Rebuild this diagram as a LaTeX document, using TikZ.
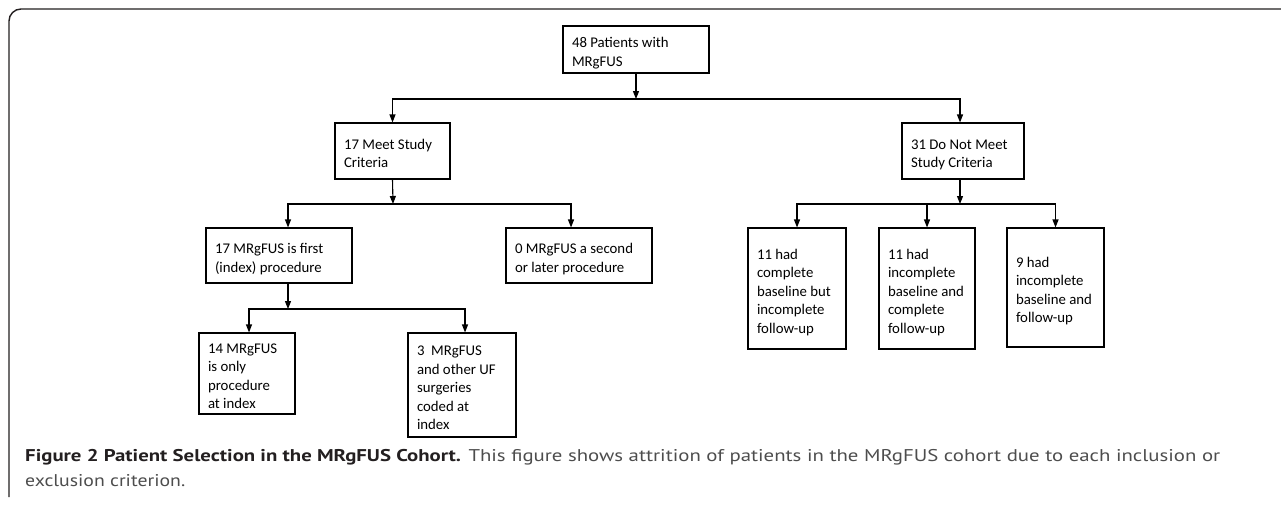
\documentclass[tikz,border=0pt]{standalone}
\usepackage{fontspec}
\usepackage{graphicx}
\setmainfont{Carlito}
\newfontfamily\capfont{PT Sans}
\usetikzlibrary{arrows.meta}
\definecolor{capdark}{HTML}{231F20}
\definecolor{capgray}{HTML}{4D4D4D}
\newcommand{\bt}[1]{\raisebox{-4pt}[\height][\depth]{\begin{tabular}{@{}l@{}}#1\end{tabular}}}
\begin{document}
\begin{tikzpicture}[x=1pt,y=-1pt,
  box/.style={draw=black, line width=1.1pt, fill=white, inner sep=0pt,
    anchor=center, font=\fontsize{14.8}{18.5}\selectfont},
  arr/.style={-{Triangle[length=8pt,width=6pt]}, line width=1.1pt},
  frame/.style={line width=1.4pt, draw=capdark, rounded corners=12pt}
  ]
\useasboundingbox (0,0) rectangle (1281,506);
\fill[white] (0,0) rectangle (1281,506);
\draw[frame] (9,497) -- (9,9) -- (1281,9);

% level 0
\node[box, minimum width=146pt, minimum height=47pt] (top) at (636,49.5) {\makebox[128pt][l]{\bt{48~Patients~with\\MRgFUS}}};
% level 1
\node[box, minimum width=115pt, minimum height=56pt] (meet) at (392.5,151) {\makebox[97pt][l]{\bt{17~Meet~Study\\Criteria}}};
\node[box, minimum width=122pt, minimum height=56pt] (notmeet) at (963,151) {\makebox[104pt][l]{\bt{31~Do~Not~Meet\\Study~Criteria}}};
% level 2 left
\node[box, minimum width=146pt, minimum height=55pt] (first) at (279,255.5) {\makebox[128pt][l]{\bt{17~MRgFUS~is~first\\(index)~procedure}}};
\node[box, minimum width=146pt, minimum height=55pt] (second) at (579,255.5) {\makebox[128pt][l]{\bt{0~MRgFUS~a~second\\or~later~procedure}}};
% level 2 right
\node[box, minimum width=98pt, minimum height=121pt] (b1) at (797,288.5) {\makebox[80pt][l]{\bt{11~had\\complete\\baseline~but\\incomplete\\follow-up}}};
\node[box, minimum width=96pt, minimum height=121pt] (b2) at (927,288.5) {\makebox[78pt][l]{\bt{11~had\\incomplete\\baseline~and\\complete\\follow-up}}};
\node[box, minimum width=97pt, minimum height=119pt] (b3) at (1055.5,287.5) {\makebox[79pt][l]{\bt{9~had\\incomplete\\baseline~and\\follow-up}}};
% level 3
\node[box, minimum width=96pt, minimum height=81pt] (only) at (247,373.5) {\makebox[78pt][l]{\bt{14~MRgFUS\\is~only\\procedure\\at~index}}};
\node[box, minimum width=108pt, minimum height=104pt] (other) at (462,385) {\makebox[90pt][l]{\bt{3~~MRgFUS\\and~other~UF\\surgeries\\coded~at\\index}}};

% junctions
\coordinate (j1) at (636,99);
\coordinate (j2) at (393,204);
\coordinate (j3) at (960,204);
\coordinate (j4) at (288,309);

\draw[arr] (top.south) -- (j1);
\draw[arr] (j1) -| (meet.north);
\draw[arr] (j1) -| ([xshift=-3pt]notmeet.north);

\draw[arr] (meet.south) -- (j2);
\draw[arr] (j2) -| ([xshift=9pt]first.north);
\draw[arr] (j2) -| ([xshift=-8pt]second.north);

\draw[arr] ([xshift=-3pt]notmeet.south) -- (j3);
\draw[arr] (j3) -| (b1.north);
\draw[arr] (j3) -| (b2.north);
\draw[arr] (j3) -| (b3.north);

\draw[arr] ([xshift=9pt]first.south) -- (j4);
\draw[arr] (j4) -| ([xshift=2pt]only.north);
\draw[arr] (j4) -| ([xshift=3pt]other.north);

% caption
\node[anchor=north west, inner sep=0pt, align=left,
  font=\capfont\fontsize{17}{25}\selectfont] (cap) at (25,449)
  {\resizebox{1195pt}{\height}{\textcolor{capdark}{\textbf{Figure 2 Patient Selection in the MRgFUS Cohort.}} \textcolor{capgray}{This figure shows attrition of patients in the MRgFUS cohort due to each inclusion or}}\\
   \resizebox{160pt}{\height}{\textcolor{capgray}{exclusion criterion.}}};
\end{tikzpicture}
\end{document}
